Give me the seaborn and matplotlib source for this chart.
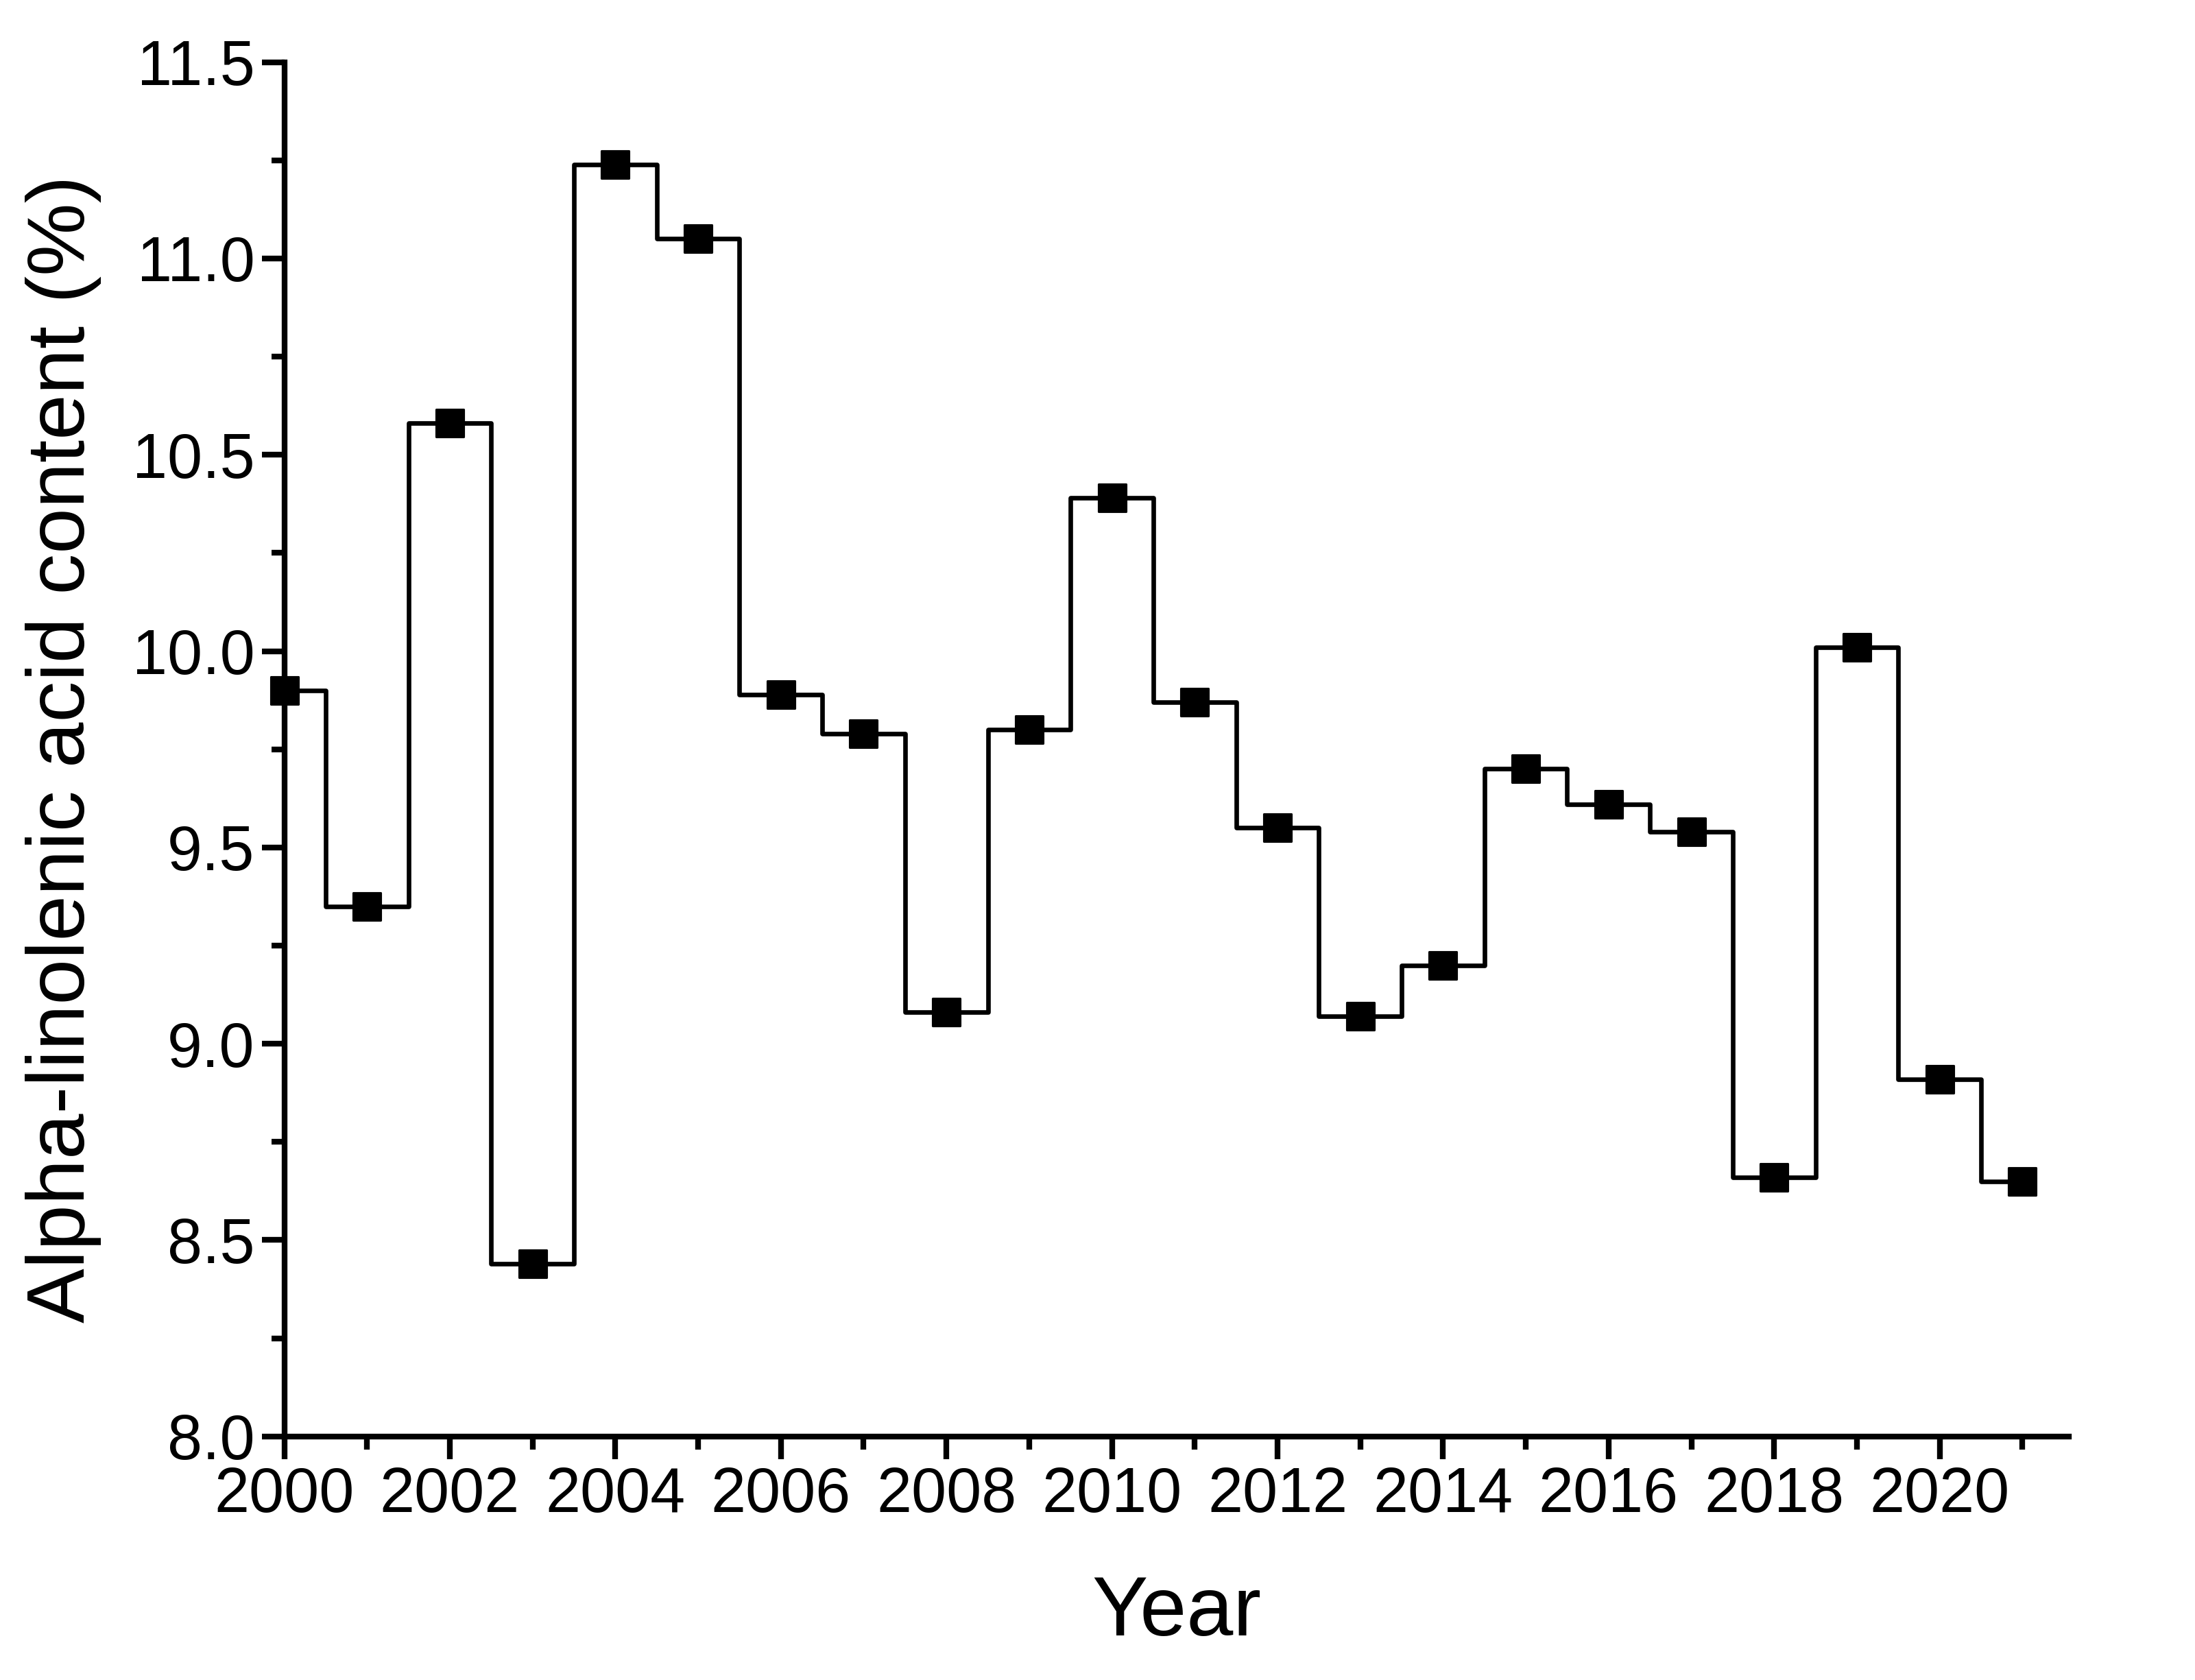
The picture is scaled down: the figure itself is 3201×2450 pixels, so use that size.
import seaborn as sns
import matplotlib.pyplot as plt
import pandas as pd
from matplotlib.ticker import MultipleLocator

years = list(range(2000, 2022))
content = [9.90, 9.35, 10.58, 8.44, 11.24, 11.05, 9.89, 9.79, 9.08, 9.80, 10.39,
           9.87, 9.55, 9.07, 9.20, 9.70, 9.61, 9.54, 8.66, 10.01, 8.91, 8.65]
df = pd.DataFrame({'Year': years, 'ALA': content})

sns.set_style('ticks', {'text.color': 'black', 'axes.labelcolor': 'black',
                        'xtick.color': 'black', 'ytick.color': 'black',
                        'axes.edgecolor': 'black'})
plt.rcParams['font.family'] = 'Liberation Sans'
fig = plt.figure(figsize=(16.005, 12.25), dpi=200)
ax = fig.add_axes([0.1295, 0.145, 0.813, 0.818])

# step line through the yearly values, then the square markers
ax.plot(df['Year'], df['ALA'], drawstyle='steps-mid', color='black', lw=2.4)
sns.scatterplot(data=df, x='Year', y='ALA', marker='s', s=200, color='black',
                edgecolor='black', ax=ax, zorder=3, clip_on=False)

ax.set_xlim(2000, 2021.56)
ax.set_ylim(8.0, 11.5)
ax.xaxis.set_major_locator(MultipleLocator(2))
ax.xaxis.set_minor_locator(MultipleLocator(1))
ax.yaxis.set_major_locator(MultipleLocator(0.5))
ax.yaxis.set_minor_locator(MultipleLocator(0.25))
ax.yaxis.set_major_formatter(plt.FormatStrFormatter('%.1f'))
for s in ['top', 'right']:
    ax.spines[s].set_visible(False)
for s in ['left', 'bottom']:
    ax.spines[s].set_linewidth(3)
ax.tick_params(which='major', length=12, width=3, labelsize=33, direction='out')
ax.tick_params(which='minor', length=7, width=3, direction='out')
ax.set_xlabel('Year', fontsize=44, labelpad=26)
ax.set_ylabel('Alpha-linolenic acid content (%)', fontsize=43, labelpad=16)

plt.savefig('out.png', dpi=200)
